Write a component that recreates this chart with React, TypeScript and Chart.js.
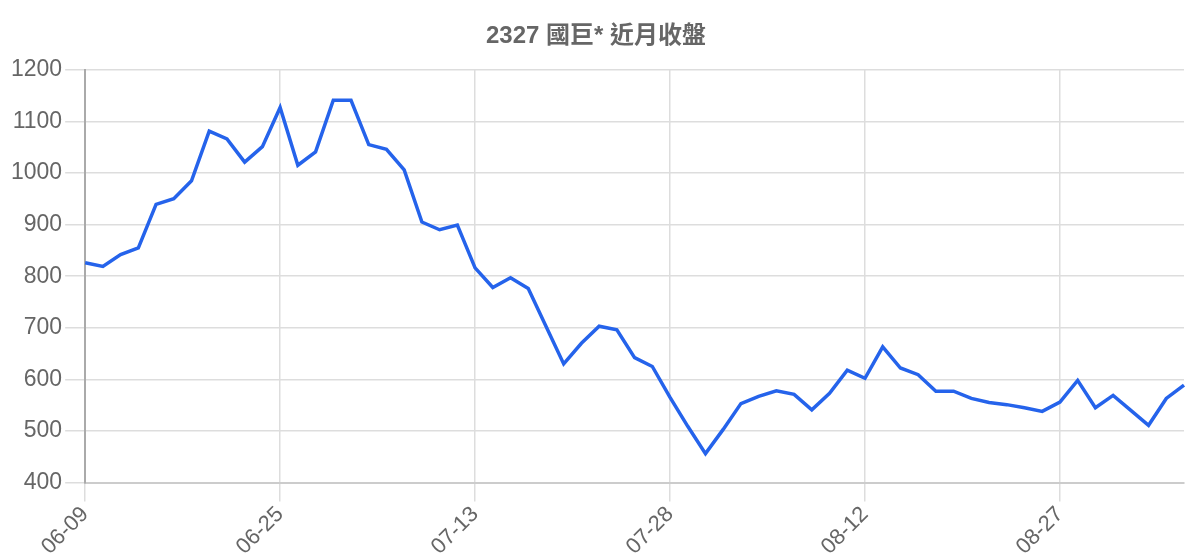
import React, { useEffect, useRef } from "react";
import { Chart, registerables } from "chart.js";

Chart.register(...registerables);

const TITLE = "2327 國巨* 近月收盤";

const dates: string[] = [
  "06-09", "06-10", "06-11", "06-12", "06-15", "06-16", "06-17", "06-18", "06-19", "06-22", "06-23",
  "06-25", "06-29", "06-30", "07-01", "07-02", "07-03", "07-06", "07-07", "07-08", "07-09", "07-10",
  "07-13", "07-14", "07-15", "07-16", "07-17", "07-20", "07-21", "07-22", "07-23", "07-24", "07-27",
  "07-28", "07-29", "07-30", "07-31", "08-03", "08-04", "08-05", "08-06", "08-07", "08-10", "08-11",
  "08-12", "08-13", "08-14", "08-17", "08-18", "08-19", "08-20", "08-21", "08-24", "08-25", "08-26",
  "08-27", "08-28", "08-31", "09-01", "09-02", "09-03", "09-04", "09-07",
];

const closes: number[] = [
  826, 819, 842, 855, 939, 950, 985, 1081, 1066, 1021, 1051,
  1127, 1015, 1041, 1141, 1141, 1055, 1046, 1006, 905, 890, 899,
  816, 778, 797, 776, 703, 630, 670, 703, 696, 642, 625,
  565, 509, 456, 503, 553, 567, 578, 571, 541, 573, 618,
  602, 663, 622, 609, 577, 577, 563, 555, 551, 545, 538,
  556, 598, 545, 569, 540, 511, 563, 589,
];

const yTicks: number[] = [400, 500, 600, 700, 800, 900, 1000, 1100, 1200];
const LABEL_STEP = 11;

export default function App() {
  const canvasRef = useRef<HTMLCanvasElement | null>(null);

  useEffect(() => {
    if (!canvasRef.current) return;
    const font = "'Liberation Sans', 'Noto Sans CJK TC', Arial, sans-serif";
    const chart = new Chart(canvasRef.current, {
      type: "line",
      data: {
        labels: dates,
        datasets: [
          {
            data: closes,
            borderColor: "#2563eb",
            backgroundColor: "#2563eb",
            borderWidth: 3.5,
            pointRadius: 0,
            tension: 0,
            fill: false,
          },
        ],
      },
      options: {
        animation: false,
        responsive: true,
        maintainAspectRatio: false,
        layout: { padding: { left: 8, right: 16, top: 8, bottom: 0 } },
        plugins: {
          legend: { display: false },
          tooltip: { enabled: false },
          title: {
            display: true,
            text: TITLE,
            color: "#666666",
            font: { family: font, size: 24, weight: "bold" },
            padding: { top: 14, bottom: 19 },
          },
        },
        scales: {
          x: {
            offset: false,
            grid: {
              color: "#dddddd",
              lineWidth: 1.5,
              tickLength: 19,
              drawOnChartArea: true,
            },
            border: { color: "#cccccc", width: 2 },
            ticks: {
              autoSkip: false,
              maxRotation: 45,
              minRotation: 45,
              color: "#666666",
              padding: 0,
              font: { family: font, size: 22 },
              callback: (_v: any, i: number) => (i % LABEL_STEP === 0 ? dates[i] : null),
            },
          },
          y: {
            min: 400,
            max: 1200,
            afterBuildTicks: (scale: any) => {
              scale.ticks = yTicks.map((v) => ({ value: v }));
            },
            grid: { color: "#dddddd", lineWidth: 1.5, tickLength: 20 },
            border: { color: "#aaaaaa", width: 2 },
            ticks: {
              color: "#666666",
              padding: 3,
              font: { family: font, size: 23 },
              callback: (v: any) => String(v),
            },
          },
        },
      },
    });
    return () => chart.destroy();
  }, []);

  return (
    <div style={{ position: "fixed", left: 0, top: 0, width: 1200, height: 560 }}>
      <canvas ref={canvasRef} />
    </div>
  );
}
